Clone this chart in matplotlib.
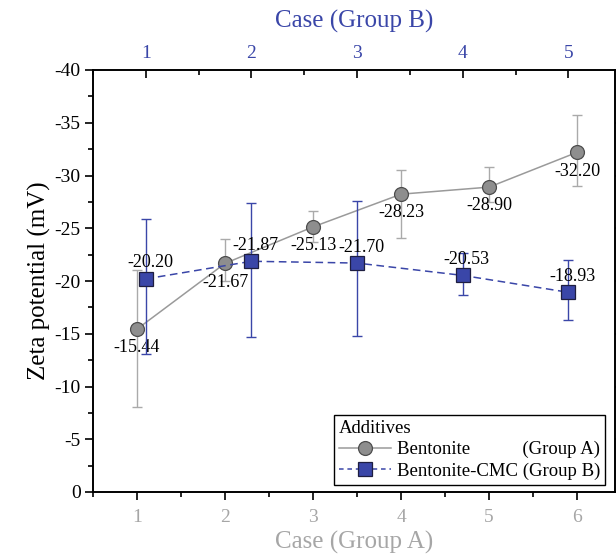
import matplotlib
matplotlib.use("Agg")
import matplotlib.pyplot as plt
from matplotlib.ticker import MultipleLocator
from matplotlib.lines import Line2D

# ---- data ----
case_a = [1, 2, 3, 4, 5, 6]
zeta_a = [-15.44, -21.67, -25.13, -28.23, -28.90, -32.20]
err_a_neg = [5.56, 2.28, 1.47, 2.32, 1.90, 3.50]   # toward more negative
err_a_pos = [7.34, 1.67, 1.43, 4.13, 1.40, 3.20]   # toward zero

case_b = [1, 2, 3, 4, 5]
zeta_b = [-20.20, -21.87, -21.70, -20.53, -18.93]
err_b_neg = [5.70, 5.53, 5.90, 2.17, 3.03]
err_b_pos = [7.10, 7.17, 6.90, 1.83, 2.63]

label_a = "Bentonite           (Group A)"
label_b = "Bentonite-CMC (Group B)"

GRAY = "#9a9a9a"
GRAY_TXT = "#a6a6a6"
BLUE = "#3a46a8"

plt.rcParams['font.family'] = ['Liberation Serif', 'DejaVu Serif']
plt.rcParams['axes.unicode_minus'] = False

fig = plt.figure(figsize=(6.16, 5.58), dpi=100)
ax = fig.add_axes([93/616, 1-492/558, (615-93)/616, (492-70)/558])
ax2 = ax.twiny()

# Group A
ax.errorbar(case_a, zeta_a, yerr=[err_a_neg, err_a_pos], fmt='none',
            ecolor="#aaaaaa", elinewidth=1.0, capsize=3.8, capthick=1.0, zorder=2)
ax.plot(case_a, zeta_a, '-', color=GRAY, lw=1.1, marker='o', ms=10,
        mfc="#8e8e8e", mec="#4d4d4d", mew=0.9, zorder=3)
for x, y in zip(case_a, zeta_a):
    ax.annotate(f"{y:.2f}", (x, y), xytext=(0, -13.5), textcoords='offset points',
                ha='center', va='center', fontsize=13, color='black', zorder=5)

# Group B
ax2.errorbar(case_b, zeta_b, yerr=[err_b_neg, err_b_pos], fmt='none',
             ecolor=BLUE, elinewidth=1.0, capsize=3.8, capthick=1.0, zorder=2)
ax2.plot(case_b, zeta_b, '--', color=BLUE, lw=1.1, dashes=(5, 3), marker='s', ms=9.5,
         mfc=BLUE, mec="#1e1e40", mew=0.9, zorder=3)
for x, y in zip(case_b, zeta_b):
    ax2.annotate(f"{y:.2f}", (x, y), xytext=(3, 11.5), textcoords='offset points',
                 ha='center', va='center', fontsize=13, color='black', zorder=5)

# axes limits
ax.set_xlim(0.5, 6.43)
ax2.set_xlim(0.5, 5.442)
ax.set_ylim(0, -40)

# ticks
ax.xaxis.set_major_locator(MultipleLocator(1))
ax.xaxis.set_minor_locator(MultipleLocator(0.5))
ax.yaxis.set_major_locator(MultipleLocator(5))
ax.yaxis.set_minor_locator(MultipleLocator(2.5))
ax2.xaxis.set_major_locator(MultipleLocator(1))
ax2.xaxis.set_minor_locator(MultipleLocator(0.5))

ax.tick_params(axis='x', which='major', direction='out', length=6, width=1.2,
               labelsize=14, labelcolor=GRAY_TXT, pad=6)
ax.tick_params(axis='x', which='minor', direction='out', length=3.5, width=1.2)
ax.tick_params(axis='y', which='major', direction='out', length=6, width=1.2,
               labelsize=14, left=True, right=True, pad=3)
ax.tick_params(axis='y', which='minor', direction='out', length=3.5, width=1.2,
               left=True, right=False)
ax2.tick_params(axis='x', which='major', direction='in', length=6, width=1.2,
                labelsize=14, labelcolor=BLUE, pad=6)
ax2.tick_params(axis='x', which='minor', direction='in', length=3.5, width=1.2)

for a in (ax, ax2):
    for s in a.spines.values():
        s.set_linewidth(1.2)

ax.set_xlabel("Case (Group A)", fontsize=18, color=GRAY_TXT, labelpad=4)
ax2.set_xlabel("Case (Group B)", fontsize=18, color=BLUE, labelpad=12)
ax.set_ylabel("Zeta potential (mV)", fontsize=18, labelpad=2)

# legend
handles = [
    Line2D([], [], color=GRAY, lw=1.1, marker='o', ms=10, mfc="#8e8e8e", mec="#4d4d4d", mew=0.9),
    Line2D([], [], color=BLUE, lw=1.1, ls='--', dashes=(3, 2.5), marker='s', ms=9.5,
           mfc=BLUE, mec="#1e1e40", mew=0.9),
]
leg = ax2.legend(handles, [label_a, label_b], title="Additives", loc='lower right',
                 fontsize=13.5, title_fontsize=13.5, frameon=True, fancybox=False,
                 edgecolor='black', framealpha=1, borderpad=0.25, handlelength=2.8,
                 handletextpad=0.3, labelspacing=0.22, borderaxespad=0.4,
                 bbox_to_anchor=(0.995, 0.0, 0.0, 1.0))
leg._legend_box.align = "left"
leg.get_frame().set_linewidth(1.0)
leg.set_zorder(10)

fig.savefig("out.png", dpi=100)
